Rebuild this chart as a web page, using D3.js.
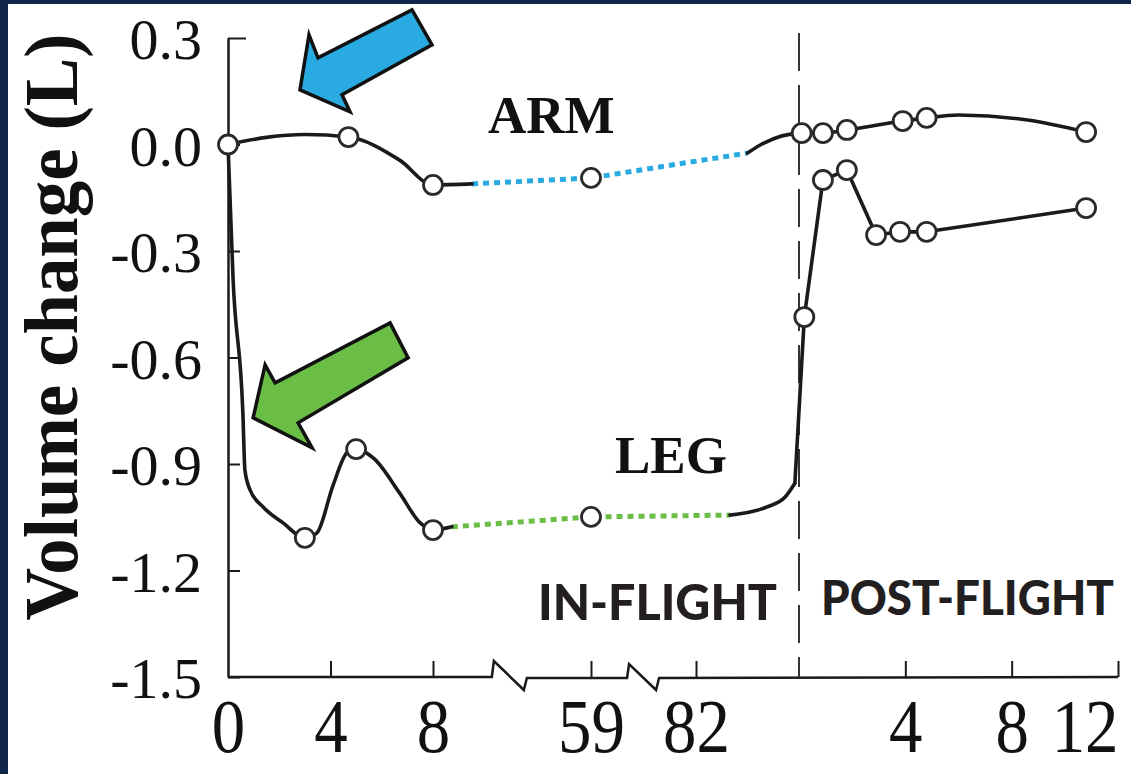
<!DOCTYPE html>
<html>
<head>
<meta charset="utf-8">
<script src="https://cdn.jsdelivr.net/npm/d3@7/dist/d3.min.js"></script>
<style>
  html, body { margin: 0; padding: 0; background: #10264a; }
  svg { display: block; }
</style>
</head>
<body>
<svg id="chart" width="1131" height="774"></svg>
<script>
// ---------------- DATA ----------------
// x axis: in-flight day; post-flight day d is placed at LANDING + d
const LANDING = 84;

// Y axis ticks
const yTickValues = [0.3, 0.0, -0.3, -0.6, -0.9, -1.2, -1.5];
const yTickLabels = ["0.3", "0.0", "-0.3", "-0.6", "-0.9", "-1.2", "-1.5"];

// X axis ticks (in-flight days, then post-flight days)
const inTickDays = [0, 4, 8, 59, 82];
const inTickLabels = ["0", "4", "8", "59", "82"];
const postTickDays = [4, 8, 12];
const postTickLabels = ["4", "8", "12"];
const axisBreakDays = [27, 66.9];

// ARM — solid curve, in-flight early part
const armInDays   = [0, 1.5, 3, 4.7, 6.7, 8, 20.6];
const armInValues = [0, 0.02, 0.028, 0.021, -0.044, -0.114, -0.111];
// ARM — dotted (gap in data)
const armGapDays   = [20.6, 59, 83.0];
const armGapValues = [-0.111, -0.094, -0.024];
// ARM — solid curve, late in-flight into post-flight
const armLateInDays   = [83.0, 83.24];
const armLateInValues = [-0.024, -0.002];
const armPostDays   = [0.1, 0.9, 1.8, 3.9, 4.8, 6, 8.6, 10.8];
const armPostValues = [0.032, 0.032, 0.041, 0.066, 0.075, 0.083, 0.069, 0.035];
// ARM measured points (circles)
const armMarkInDays   = [0, 4.7, 8, 59];
const armMarkInValues = [0, 0.021, -0.114, -0.094];
const armMarkPostDays   = [0.1, 0.9, 1.8, 3.9, 4.8, 10.8];
const armMarkPostValues = [0.032, 0.032, 0.041, 0.066, 0.075, 0.035];

// LEG — solid curve, in-flight early part
const legInDays   = [0, 0.2, 0.58, 0.66, 0.86, 1.37, 2.15, 3, 3.47, 4.1, 4.64, 5, 5.7, 6.7, 7.5, 8, 14.1];
const legInValues = [0, -0.382, -0.756, -0.917, -0.973, -1.021, -1.066, -1.108, -1.094, -0.96, -0.869, -0.858, -0.885, -0.982, -1.066, -1.086, -1.077];
// LEG — dotted (gap in data)
const legGapDays   = [14.1, 59, 82.66];
const legGapValues = [-1.077, -1.049, -1.044];
// LEG — solid, late in-flight
const legLateInDays   = [82.66, 83.38, 83.73, 83.92];
const legLateInValues = [-1.044, -1.021, -0.993, -0.954];
// LEG — post-flight (straight segments)
const legPostDays   = [0.2, 0.9, 1.8, 2.9, 3.8, 4.8, 10.8];
const legPostValues = [-0.486, -0.1, -0.072, -0.255, -0.246, -0.246, -0.179];
// LEG measured points (circles)
const legMarkInDays   = [3, 5, 8, 59];
const legMarkInValues = [-1.108, -0.858, -1.086, -1.049];

// Annotation arrows: tip in data units
const arrowTipDays   = [2.81, 0.98];
const arrowTipValues = [0.154, -0.770];
const arrowColors    = ["#29abe2", "#6abd45"];

// ---------------- CHART ----------------
const svg = d3.select("#chart");
const W = 1131, H = 774;

// background frame + white panel
svg.append("rect").attr("width", W).attr("height", H).attr("fill", "#10264a");
svg.append("rect").attr("x", 8).attr("y", 4).attr("width", W - 8).attr("height", H - 4).attr("fill", "#ffffff");

const x = d3.scaleLinear()
  .domain([0, 8, 59, 82, LANDING, LANDING + 12])
  .range([228, 433, 591, 696, 799, 1118]);
const y = d3.scaleLinear().domain([-1.5, 0.3]).range([677, 38]);

const serif = "'Liberation Serif', 'Times New Roman', serif";
const ink = "#1a1a1a";

const zip = (ds, vs, off = 0) => ds.map((d, i) => [d + off, vs[i]]);

// ---- Y axis ----
const yAxis = d3.axisLeft(y)
  .tickValues(yTickValues)
  .tickFormat((d, i) => yTickLabels[i])
  .tickSize(-12)
  .tickSizeOuter(0)
  .tickPadding(26);
const gy = svg.append("g").attr("transform", `translate(${x(0)},0)`).call(yAxis);
gy.select(".domain").attr("stroke", ink).attr("stroke-width", 2.5);
gy.selectAll(".tick line").attr("stroke", ink).attr("stroke-width", 2);
gy.selectAll(".tick text")
  .attr("font-family", serif).attr("font-size", 58).attr("fill", "#111")
  .attr("dy", "0.36em");
gy.selectAll(".tick").filter(d => d === 0.3).select("line").attr("x2", 18);

// ---- X axis (broken baseline) ----
const base = y(-1.5);
const bx1 = x(axisBreakDays[0]), bx2 = x(axisBreakDays[1]);
const xPath = d3.path();
xPath.moveTo(x(0), base);
xPath.lineTo(bx1, base);
xPath.lineTo(bx1 + 2, base - 16);
xPath.lineTo(bx1 + 32, base + 13);
xPath.lineTo(bx1 + 35, base + 1);
xPath.lineTo(bx2, base + 1);
xPath.lineTo(bx2 + 2, base - 13);
xPath.lineTo(bx2 + 29, base + 13);
xPath.lineTo(bx2 + 32, base + 1);
xPath.lineTo(x(LANDING + 12), base);
svg.append("path").attr("d", xPath.toString()).attr("fill", "none")
  .attr("stroke", ink).attr("stroke-width", 2.5).attr("stroke-linejoin", "miter");

const allTickVals = inTickDays.concat(postTickDays.map(d => d + LANDING));
const allTickLabels = inTickLabels.concat(postTickLabels);
const xAxis = d3.axisBottom(x)
  .tickValues(allTickVals)
  .tickFormat((d, i) => allTickLabels[i])
  .tickSize(-16)
  .tickSizeOuter(0)
  .tickPadding(21);
const gx = svg.append("g").attr("transform", `translate(0,${base})`).call(xAxis);
gx.select(".domain").remove();
gx.selectAll(".tick line").attr("stroke", ink).attr("stroke-width", 2)
  .attr("opacity", d => d === 0 ? 0 : 1);
gx.selectAll(".tick text")
  .attr("font-family", serif).attr("font-size", 76).attr("fill", "#111")
  .attr("transform", "scale(0.88,1)");
gx.selectAll(".tick").filter(d => d === LANDING + 12).select("text").attr("text-anchor", "end");

// ---- dashed landing line ----
svg.append("line")
  .attr("x1", x(LANDING)).attr("x2", x(LANDING))
  .attr("y1", 33).attr("y2", base)
  .attr("stroke", "#333").attr("stroke-width", 2).attr("stroke-dasharray", "38 14");

// ---- lines ----
const smooth = d3.line().x(d => x(d[0])).y(d => y(d[1])).curve(d3.curveMonotoneX);
const straight = d3.line().x(d => x(d[0])).y(d => y(d[1])).curve(d3.curveLinear);

// dotted gaps
svg.append("path").attr("d", straight(zip(armGapDays, armGapValues)))
  .attr("fill", "none").attr("stroke", "#29abe2").attr("stroke-width", 5).attr("stroke-dasharray", "6 5");
svg.append("path").attr("d", straight(zip(legGapDays, legGapValues)))
  .attr("fill", "none").attr("stroke", "#6abd45").attr("stroke-width", 5).attr("stroke-dasharray", "6 5");

const solid = (d, fn) => svg.append("path").attr("d", fn(d))
  .attr("fill", "none").attr("stroke", ink).attr("stroke-width", 3.6)
  .attr("stroke-linejoin", "round").attr("stroke-linecap", "round");

solid(zip(armInDays, armInValues), smooth);
solid(zip(armLateInDays, armLateInValues).concat(zip(armPostDays, armPostValues, LANDING)), smooth);
solid(zip(legInDays, legInValues), smooth);
solid(zip(legLateInDays, legLateInValues), smooth);
solid([[legLateInDays[legLateInDays.length - 1], legLateInValues[legLateInValues.length - 1]]]
  .concat(zip(legPostDays, legPostValues, LANDING)), straight);

// ---- circles ----
const marks = []
  .concat(zip(armMarkInDays, armMarkInValues))
  .concat(zip(armMarkPostDays, armMarkPostValues, LANDING))
  .concat(zip(legMarkInDays, legMarkInValues))
  .concat(zip(legPostDays, legPostValues, LANDING));
svg.append("g").selectAll("circle").data(marks).join("circle")
  .attr("cx", d => x(d[0])).attr("cy", d => y(d[1])).attr("r", 9.5)
  .attr("fill", "#fff").attr("stroke", "#2a2a2a").attr("stroke-width", 2.8);

// ---- series labels ----
svg.append("text").attr("x", 488).attr("y", 133).text("ARM")
  .attr("font-family", serif).attr("font-weight", "bold").attr("font-size", 53).attr("fill", "#111");
svg.append("text").attr("x", 615).attr("y", 473).text("LEG")
  .attr("font-family", serif).attr("font-weight", "bold").attr("font-size", 53).attr("fill", "#111");

// phase labels
const sans = "Lato, 'Open Sans', sans-serif";
svg.append("text").attr("x", 538).attr("y", 620).text("IN-FLIGHT")
  .attr("font-family", sans).attr("font-weight", 900).attr("font-size", 49).attr("fill", "#231f20")
  .attr("textLength", 239).attr("lengthAdjust", "spacingAndGlyphs");
svg.append("text").attr("x", 821).attr("y", 615).text("POST-FLIGHT")
  .attr("font-family", sans).attr("font-weight", 900).attr("font-size", 48).attr("fill", "#231f20")
  .attr("textLength", 293).attr("lengthAdjust", "spacingAndGlyphs");

// y axis title
svg.append("text")
  .attr("transform", "translate(77,327) rotate(-90)")
  .attr("text-anchor", "middle")
  .attr("font-family", serif).attr("font-weight", "bold").attr("font-size", 76).attr("fill", "#111")
  .attr("textLength", 587).attr("lengthAdjust", "spacingAndGlyphs")
  .text("Volume change  (L)");

// ---- arrows ----
const arrowShapes = [
  [[0, 0], [9, -55], [18, -32], [112, -80], [132, -45], [42, 5], [50, 22]],
  [[0, 0], [12, -53], [22, -35], [137, -95], [155, -60], [45, 5], [59, 30]]
];
arrowShapes.forEach((shape, i) => {
  const tx = x(arrowTipDays[i]), ty = y(arrowTipValues[i]);
  svg.append("path")
    .attr("d", d3.line()(shape.map(p => [tx + p[0], ty + p[1]])) + "Z")
    .attr("fill", arrowColors[i]).attr("stroke", "#111").attr("stroke-width", 3.5)
    .attr("stroke-linejoin", "miter");
});
</script>
</body>
</html>
